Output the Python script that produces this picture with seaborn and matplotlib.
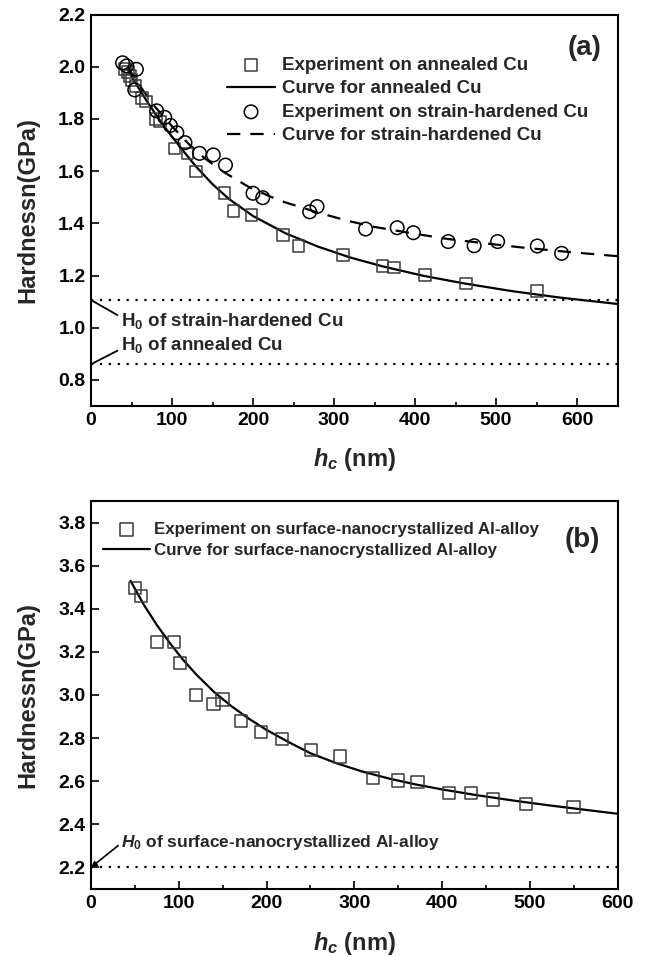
import matplotlib
matplotlib.use("Agg")
import matplotlib.pyplot as plt
from matplotlib.ticker import MultipleLocator, FormatStrFormatter
import seaborn as sns
import numpy as np

# ---------------- data: panel (a) ----------------
annealed_h = [42, 46, 48, 50, 55, 63, 68, 80, 85, 103, 119, 130, 165, 176, 198, 237, 256, 311, 360, 374, 412, 463, 551]
annealed_H = [1.99, 1.98, 1.965, 1.95, 1.925, 1.879, 1.866, 1.80, 1.79, 1.687, 1.668, 1.598, 1.515, 1.448, 1.432, 1.355, 1.314, 1.278, 1.236, 1.230, 1.202, 1.170, 1.141]

strain_h = [39, 44, 56, 54, 81, 91, 98, 106, 116, 134, 151, 166, 200, 212, 270, 279, 339, 378, 398, 441, 473, 502, 551, 581]
strain_H = [2.015, 2.003, 1.99, 1.911, 1.831, 1.806, 1.775, 1.747, 1.709, 1.668, 1.662, 1.623, 1.515, 1.498, 1.444, 1.464, 1.378, 1.383, 1.364, 1.330, 1.314, 1.330, 1.313, 1.285]

annealed_curve_h = [45, 50, 60, 70, 80, 90, 100, 115, 130, 150, 170, 200, 240, 280, 320, 360, 410, 460, 520, 580, 650]
annealed_curve_H = [1.99, 1.963, 1.912, 1.863, 1.817, 1.773, 1.732, 1.673, 1.616, 1.550, 1.494, 1.428, 1.362, 1.311, 1.269, 1.235, 1.199, 1.170, 1.140, 1.115, 1.091]

strain_curve_h = [45, 55, 65, 80, 100, 120, 140, 163, 196, 233, 275, 315, 350, 400, 440, 490, 530, 590, 650]
strain_curve_H = [2.0, 1.952, 1.906, 1.843, 1.772, 1.706, 1.650, 1.598, 1.537, 1.487, 1.446, 1.411, 1.386, 1.360, 1.340, 1.322, 1.308, 1.290, 1.274]

H0_strain = 1.106
H0_annealed = 0.86

# ---------------- data: panel (b) ----------------
al_h = [50, 57, 75, 95, 101.5, 120, 139.5, 150, 171, 194, 218, 251, 284, 321, 350, 372, 408, 433, 458, 496, 550]
al_H = [3.498, 3.460, 3.247, 3.247, 3.149, 2.999, 2.957, 2.979, 2.878, 2.828, 2.797, 2.746, 2.715, 2.614, 2.603, 2.595, 2.544, 2.544, 2.515, 2.495, 2.479]

al_curve_h = [45, 60, 75, 90, 105, 120, 140, 160, 180, 200, 225, 250, 280, 310, 340, 370, 400, 440, 480, 520, 560, 600]
al_curve_H = [3.53, 3.42, 3.325, 3.24, 3.163, 3.095, 3.015, 2.948, 2.890, 2.838, 2.782, 2.730, 2.683, 2.644, 2.612, 2.585, 2.562, 2.535, 2.511, 2.489, 2.469, 2.449]

H0_al = 2.2

# ---------------- style ----------------
sns.set_style("ticks")
plt.rcParams['font.family'] = ['Liberation Sans', 'DejaVu Sans']
plt.rcParams['font.weight'] = 'bold'
plt.rcParams['axes.labelweight'] = 'bold'
plt.rcParams['mathtext.fontset'] = 'custom'
plt.rcParams['mathtext.rm'] = 'Liberation Sans:bold'
plt.rcParams['mathtext.bf'] = 'Liberation Sans:bold'
plt.rcParams['mathtext.it'] = 'Liberation Sans:italic:bold'

W, H = 648, 957
fig = plt.figure(figsize=(W / 100, H / 100), dpi=100)

def px_axes(l, t, r, b):
    return [l / W, 1 - b / H, (r - l) / W, (b - t) / H]

ax1 = fig.add_axes(px_axes(91, 14.5, 617.5, 406))
ax2 = fig.add_axes(px_axes(91, 501, 617.5, 889))

mec = '#3a3a3a'

def style_axes(ax):
    for s in ax.spines.values():
        s.set_visible(True)
        s.set_linewidth(1.5)
        s.set_color('black')
    ax.tick_params(which='both', direction='in', top=False, right=False,
                   width=1.2, colors='black', labelsize=14)
    ax.tick_params(which='major', length=5.5, pad=4)
    ax.tick_params(which='minor', length=2.8)
    for lab in ax.get_xticklabels() + ax.get_yticklabels():
        lab.set_fontweight('bold')

# ---------------- panel (a) ----------------
sns.scatterplot(x=annealed_h, y=annealed_H, ax=ax1, marker='s', s=70,
                facecolors='none', edgecolors=mec, linewidths=1.1,
                label='Experiment on annealed Cu', zorder=3)
sns.lineplot(x=annealed_curve_h, y=annealed_curve_H, ax=ax1, color='black',
             lw=1.6, label='Curve for annealed Cu', estimator=None, sort=False)
sns.scatterplot(x=strain_h, y=strain_H, ax=ax1, marker='o', s=95,
                facecolors='none', edgecolors='black', linewidths=1.1,
                label='Experiment on strain-hardened Cu', zorder=3)
sns.lineplot(x=strain_curve_h, y=strain_curve_H, ax=ax1, color='black',
             lw=1.6, linestyle=(0, (6, 4.5)), label='Curve for strain-hardened Cu',
             estimator=None, sort=False)
ax1.axhline(H0_strain, color='black', lw=1.6, linestyle=(0, (1, 3)))
ax1.axhline(H0_annealed, color='black', lw=1.6, linestyle=(0, (1, 3)))

ax1.set_xlim(0, 650)
ax1.set_ylim(0.7, 2.2)
ax1.xaxis.set_major_locator(MultipleLocator(100))
ax1.xaxis.set_minor_locator(MultipleLocator(50))
ax1.set_yticks(np.arange(0.8, 2.21, 0.2))
ax1.yaxis.set_major_formatter(FormatStrFormatter('%.1f'))
style_axes(ax1)

ax1.set_ylabel('Hardnessn(GPa)', fontsize=17, fontweight='bold')
ax1.yaxis.set_label_coords((39 - 91) / 526.5, 0.5)
ax1.set_xlabel(r'$h_c$ (nm)', fontsize=17, fontweight='bold')
ax1.xaxis.set_label_coords(0.5, (406 - 446) / 391.5)

leg1 = ax1.legend(loc='upper left', bbox_to_anchor=(227 / W, 1 - 57 / H),
                  bbox_transform=fig.transFigure, frameon=False,
                  prop={'family': 'Liberation Sans', 'weight': 'bold', 'size': 13.5},
                  handlelength=2.56, handletextpad=0.36, labelspacing=0.33,
                  borderpad=0, borderaxespad=0)

ax1.annotate('H$_0$ of strain-hardened Cu', xy=(0, H0_strain), xytext=(36.7, 1.0065),
             fontsize=13.5, fontweight='bold', va='baseline', ha='left',
             arrowprops=dict(arrowstyle='-', color='black', lw=1.3,
                             shrinkA=0, shrinkB=0, relpos=(0, 0.7)))
ax1.annotate('H$_0$ of annealed Cu', xy=(0, H0_annealed), xytext=(36.7, 0.9146),
             fontsize=13.5, fontweight='bold', va='baseline', ha='left',
             arrowprops=dict(arrowstyle='-', color='black', lw=1.3,
                             shrinkA=0, shrinkB=0, relpos=(0, 0.3)))
fig.text(585 / W, 1 - 48 / H, '(a)', fontsize=20, fontweight='bold', ha='center', va='center')

# ---------------- panel (b) ----------------
sns.scatterplot(x=al_h, y=al_H, ax=ax2, marker='s', s=78,
                facecolors='none', edgecolors=mec, linewidths=1.1,
                label='Experiment on surface-nanocrystallized Al-alloy', zorder=3)
sns.lineplot(x=al_curve_h, y=al_curve_H, ax=ax2, color='black', lw=1.6,
             label='Curve for surface-nanocrystallized Al-alloy', estimator=None, sort=False)
ax2.axhline(H0_al, color='black', lw=1.6, linestyle=(0, (1, 3)))

ax2.set_xlim(0, 600)
ax2.set_ylim(2.1, 3.9)
ax2.xaxis.set_major_locator(MultipleLocator(100))
ax2.xaxis.set_minor_locator(MultipleLocator(50))
ax2.set_yticks(np.arange(2.2, 3.81, 0.2))
ax2.yaxis.set_major_formatter(FormatStrFormatter('%.1f'))
style_axes(ax2)

ax2.set_ylabel('Hardnessn(GPa)', fontsize=17, fontweight='bold')
ax2.yaxis.set_label_coords((39 - 91) / 526.5, 0.5)
ax2.set_xlabel(r'$h_c$ (nm)', fontsize=17, fontweight='bold')
ax2.xaxis.set_label_coords(0.5, (889 - 930) / 388)

leg2 = ax2.legend(loc='upper left', bbox_to_anchor=(103 / W, 1 - 522 / H),
                  bbox_transform=fig.transFigure, frameon=False,
                  prop={'family': 'Liberation Sans', 'weight': 'bold', 'size': 12.2},
                  handlelength=2.78, handletextpad=0.24, labelspacing=0.36,
                  borderpad=0, borderaxespad=0)

ax2.annotate(r'$H_{\mathit{0}}$ of surface-nanocrystallized Al-alloy', xy=(0, H0_al),
             xytext=(34.7, 2.293), fontsize=12.5, fontweight='bold', va='baseline', ha='left',
             arrowprops=dict(arrowstyle='-|>', color='black', lw=1.2, mutation_scale=8,
                             shrinkA=0, shrinkB=0, relpos=(0, 0.5)))
fig.text(582 / W, 1 - 540 / H, '(b)', fontsize=20, fontweight='bold', ha='center', va='center')

fig.savefig('out.png', dpi=100)
